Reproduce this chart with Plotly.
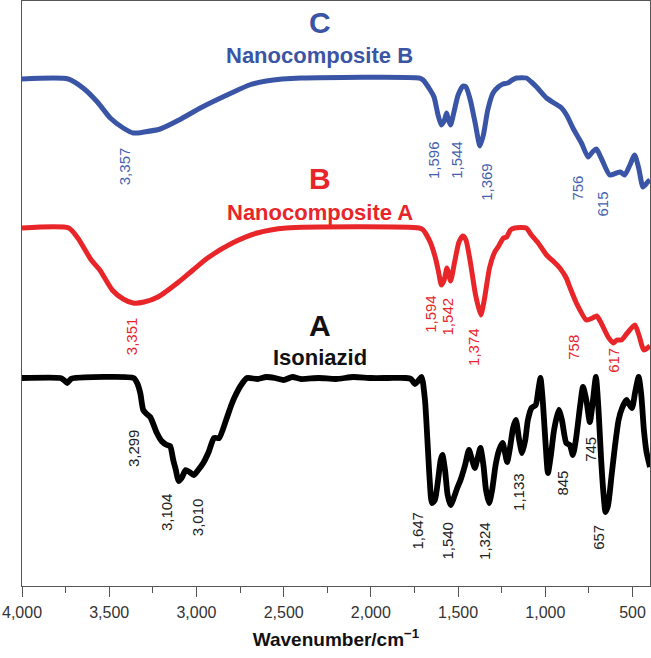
import plotly.graph_objects as go

# ---------------- data (wavenumber in cm-1, transmittance in arbitrary units) ----------------
c_wn = [4000, 3735, 3650, 3568, 3494, 3420, 3362, 3300, 3208, 3100, 2978, 2886, 2800, 2697, 2600, 2508, 2400,
        1724, 1701, 1660, 1638, 1615, 1596, 1580, 1566, 1555, 1543, 1525, 1500, 1472, 1455, 1430, 1400, 1375,
        1355, 1330, 1300, 1270, 1243, 1215, 1190, 1165, 1108, 1080, 1050, 993, 950, 907, 875, 842, 793, 755,
        730, 707, 680, 631, 592, 570, 545, 515, 488, 465, 440, 413, 400]
c_py = [79, 79, 88, 102, 118, 128, 133, 132, 129, 120, 108, 100, 93, 85, 81, 79, 78,
        78, 80, 90, 97, 115, 125, 121, 113, 120, 125, 113, 95, 86, 87, 100, 125, 146,
        135, 110, 93, 87, 84, 83, 80, 78, 78, 82, 87, 98, 103, 108, 116, 128, 143, 157,
        152, 149, 158, 175, 173, 172, 175, 165, 155, 168, 187, 182, 180]

b_wn = [4000, 3732, 3680, 3603, 3554, 3483, 3420, 3363, 3300, 3221, 3102, 3020, 2936, 2794, 2652, 2485,
        1724, 1700, 1660, 1630, 1612, 1596, 1580, 1564, 1555, 1543, 1520, 1495, 1473, 1455, 1430, 1400,
        1370, 1350, 1320, 1290, 1271, 1240, 1222, 1200, 1175, 1110, 1080, 1041, 993, 950, 917, 880, 860,
        822, 764, 730, 705, 680, 640, 611, 590, 564, 530, 487, 460, 436, 400]
b_py = [228, 228, 238, 260, 270, 290, 299, 303, 302, 297, 282, 270, 258, 243, 233, 228,
        228, 230, 242, 258, 272, 285, 280, 268, 273, 281, 262, 242, 236, 240, 262, 295,
        315, 300, 268, 252, 247, 238, 237, 230, 228, 228, 235, 243, 255, 262, 268, 278, 287,
        303, 320, 318, 316, 323, 337, 343, 340, 340, 333, 325, 337, 350, 346]

a_wn = [4000, 3780, 3760, 3741, 3720, 3700, 3360, 3340, 3322, 3305, 3285, 3265, 3227, 3200, 3170, 3151,
        3133, 3118, 3103, 3085, 3062, 3040, 3015, 2990, 2961, 2930, 2899, 2870, 2830, 2800, 2781, 2740,
        2710, 2650, 2600, 2550, 2500, 2450, 2400, 2300, 2200, 2100, 2000, 1900, 1800, 1770, 1747, 1725,
        1709, 1690, 1676, 1663, 1650, 1633, 1615, 1600, 1590, 1575, 1560, 1543, 1525, 1505, 1486, 1460,
        1438, 1420, 1404, 1388, 1372, 1355, 1340, 1322, 1305, 1285, 1265, 1245, 1232, 1219, 1200, 1185,
        1169, 1150, 1133, 1115, 1100, 1079, 1055, 1040, 1028, 1015, 1000, 985, 968, 950, 923, 905, 880,
        860, 842, 825, 800, 784, 765, 745, 730, 710, 695, 680, 666, 655, 640, 620, 600, 580, 560, 535,
        520, 503, 485, 465, 450, 435, 420, 400]
a_py = [378, 378, 380, 383, 379, 378, 378, 383, 393, 410, 414, 417, 433, 441, 445, 446,
        460, 470, 481, 478, 470, 472, 475, 470, 463, 452, 438, 438, 420, 405, 397, 384,
        378, 379, 377, 378, 380, 377, 379, 378, 379, 377, 378, 378, 378, 379, 384, 380,
        377, 400, 440, 480, 503, 500, 480, 460, 455, 470, 495, 505, 498, 488, 480, 465,
        450, 460, 468, 458, 448, 465, 490, 503, 490, 465, 450, 443, 452, 462, 445, 428,
        420, 440, 453, 440, 420, 408, 405, 390, 378, 400, 440, 473, 455, 430, 410, 420, 443,
        445, 455, 440, 405, 387, 400, 422, 405, 377, 410, 460, 495, 512, 505, 475, 445, 420, 408, 400,
        404, 408, 392, 377, 395, 430, 452, 467]

PLOT_BOTTOM = 586
c_t = [PLOT_BOTTOM - v for v in c_py]
b_t = [PLOT_BOTTOM - v for v in b_py]
a_t = [PLOT_BOTTOM - v for v in a_py]

# peak labels
c_labels = ["3,357", "1,596", "1,544", "1,369", "756", "615"]
c_lab_x = [3414, 1644, 1513, 1341, 821, 678]
c_lab_y = [166, 160, 160, 182, 188, 204]

b_labels = ["3,351", "1,594", "1,542", "1,374", "758", "617"]
b_lab_x = [3374, 1662, 1561, 1415, 843, 613]
b_lab_y = [336, 314, 316, 347, 347, 360]

a_labels = ["3,299", "3,104", "3,010", "1,647", "1,540", "1,324", "1,133", "845", "745", "657"]
a_lab_x = [3363, 3174, 2996, 1738, 1566, 1352, 1157, 907, 745, 699]
a_lab_y = [448, 512, 517, 531, 541, 541, 492, 483, 449, 537]

tick_vals = [4000, 3500, 3000, 2500, 2000, 1500, 1000, 500]
tick_text = ["4,000", "3,500", "3,000", "2,500", "2,000", "1,500", "1,000", "500"]

BLUE = "#3A55A5"
BLUE_T = "#4562AD"
RED = "#E8262A"
BLACK = "#000000"
FONT = "Liberation Sans, Arial, sans-serif"

fig = go.Figure()
for wn, t, col, w in [(c_wn, c_t, BLUE, 5), (b_wn, b_t, RED, 5), (a_wn, a_t, BLACK, 5.8)]:
    fig.add_trace(go.Scatter(x=wn, y=t, mode="lines",
                             line=dict(color=col, width=w, shape="spline", smoothing=0.6),
                             showlegend=False, hoverinfo="skip"))

ann = []
for labels, xs, ys, col in [(c_labels, c_lab_x, c_lab_y, BLUE_T),
                            (b_labels, b_lab_x, b_lab_y, RED),
                            (a_labels, a_lab_x, a_lab_y, "#222222")]:
    for t, x, y in zip(labels, xs, ys):
        ann.append(dict(x=x, y=PLOT_BOTTOM - y, xref="x", yref="y", text=t, textangle=-90,
                        showarrow=False, font=dict(family=FONT, size=15, color=col)))

for txt, y, size, col in [("C", 22, 30, BLUE), ("Nanocomposite B", 55, 22, BLUE),
                          ("B", 178, 30, RED), ("Nanocomposite A", 212, 22, RED),
                          ("A", 325, 30, "#111111"), ("Isoniazid", 357, 22, "#111111")]:
    ann.append(dict(x=2292, y=PLOT_BOTTOM - y, xref="x", yref="y", text="<b>" + txt + "</b>",
                    showarrow=False, font=dict(family=FONT, size=size, color=col)))

fig.update_layout(
    width=651, height=658,
    margin=dict(l=22, r=1, t=1, b=72),
    paper_bgcolor="white", plot_bgcolor="white",
    annotations=ann,
    font=dict(family=FONT),
)
fig.update_xaxes(
    automargin=False,
    range=[4000, 400], tickvals=tick_vals, ticktext=tick_text,
    ticks="outside", ticklen=10, tickwidth=1.3, tickcolor="#555555",
    ticklabelstandoff=2,
    minor=dict(dtick=250, tick0=0, ticks="outside", ticklen=6, tickwidth=1.3, tickcolor="#555555", showgrid=False),
    showline=True, linecolor="#555555", linewidth=1.3, mirror=True,
    showgrid=False, zeroline=False,
    tickfont=dict(family=FONT, size=16, color="#333333"),
    title=dict(text="<b>Wavenumber/cm<sup>−1</sup></b>", font=dict(family=FONT, size=19, color="#111111"), standoff=12),
)
fig.update_yaxes(
    automargin=False,
    range=[0, 585], showticklabels=False, ticks="", showgrid=False, zeroline=False,
    showline=True, linecolor="#555555", linewidth=1.3, mirror=True,
)

fig.write_html("out.html", config={"displayModeBar": False},
               post_script="document.body.style.margin='0';document.body.style.padding='0';")
